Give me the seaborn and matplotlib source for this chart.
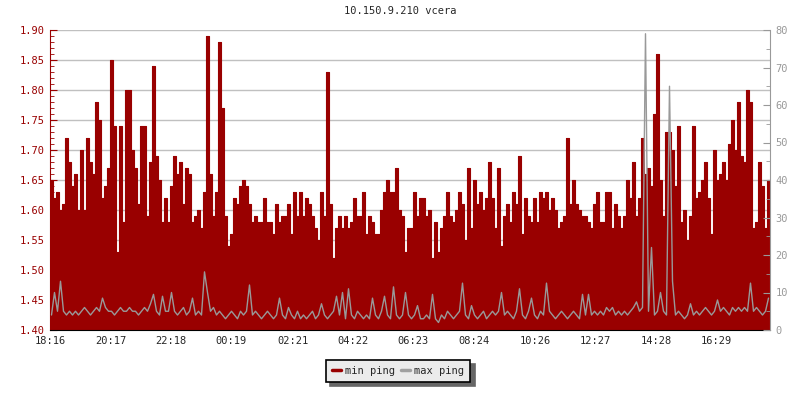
import numpy as np
import pandas as pd
import matplotlib
matplotlib.use("Agg")
import matplotlib.pyplot as plt
from matplotlib.lines import Line2D
from matplotlib.ticker import MultipleLocator
import seaborn as sns

# ── data (one sample every 6 minutes from 18:16) ──
min_ping = [
    1.65, 1.62, 1.63, 1.60, 1.61, 1.72, 1.68, 1.64, 1.66, 1.60,
    1.70, 1.60, 1.72, 1.68, 1.66, 1.78, 1.75, 1.62, 1.64, 1.67,
    1.85, 1.74, 1.53, 1.74, 1.58, 1.80, 1.80, 1.70, 1.67, 1.61,
    1.74, 1.74, 1.59, 1.68, 1.84, 1.69, 1.65, 1.58, 1.62, 1.58,
    1.64, 1.69, 1.66, 1.68, 1.61, 1.67, 1.66, 1.58, 1.59, 1.60,
    1.57, 1.63, 1.89, 1.66, 1.59, 1.63, 1.88, 1.77, 1.59, 1.54,
    1.56, 1.62, 1.61, 1.64, 1.65, 1.64, 1.61, 1.58, 1.59, 1.58,
    1.58, 1.62, 1.58, 1.58, 1.56, 1.61, 1.58, 1.59, 1.59, 1.61,
    1.56, 1.63, 1.59, 1.63, 1.59, 1.62, 1.61, 1.59, 1.57, 1.55,
    1.63, 1.59, 1.83, 1.61, 1.52, 1.57, 1.59, 1.57, 1.59, 1.57,
    1.58, 1.62, 1.59, 1.59, 1.63, 1.56, 1.59, 1.58, 1.56, 1.56,
    1.60, 1.63, 1.65, 1.63, 1.63, 1.67, 1.60, 1.59, 1.53, 1.57,
    1.57, 1.63, 1.59, 1.62, 1.62, 1.59, 1.60, 1.52, 1.58, 1.53,
    1.57, 1.59, 1.63, 1.59, 1.58, 1.60, 1.63, 1.61, 1.55, 1.67,
    1.57, 1.65, 1.61, 1.63, 1.60, 1.62, 1.68, 1.62, 1.57, 1.67,
    1.54, 1.59, 1.61, 1.58, 1.63, 1.61, 1.69, 1.56, 1.62, 1.59,
    1.58, 1.62, 1.58, 1.63, 1.62, 1.63, 1.60, 1.62, 1.60, 1.57,
    1.58, 1.59, 1.72, 1.61, 1.65, 1.61, 1.60, 1.59, 1.59, 1.58,
    1.57, 1.61, 1.63, 1.58, 1.58, 1.63, 1.63, 1.57, 1.61, 1.59,
    1.57, 1.59, 1.65, 1.62, 1.68, 1.59, 1.62, 1.72, 1.66, 1.67,
    1.64, 1.76, 1.86, 1.65, 1.59, 1.73, 1.73, 1.70, 1.64, 1.74,
    1.58, 1.60, 1.55, 1.59, 1.74, 1.62, 1.63, 1.65, 1.68, 1.62,
    1.56, 1.70, 1.65, 1.66, 1.68, 1.65, 1.71, 1.75, 1.70, 1.78,
    1.69, 1.68, 1.80, 1.78, 1.57, 1.58, 1.68, 1.64, 1.57, 1.65,
]

max_ping = [
    4, 10, 5, 13, 5, 4, 5, 4, 5, 4,
    5, 6, 5, 4, 5, 6, 5, 8.5, 6, 5,
    5, 4, 5, 6, 5, 5, 6, 5, 5, 4,
    5, 6, 5, 7, 9.5, 5, 4, 9, 5, 5,
    10, 5, 4, 5, 6, 4, 5, 8.5, 4, 5,
    4, 15.5, 10, 5, 6, 4, 5, 4, 3, 4,
    5, 4, 3, 5, 4, 5, 12, 4, 5, 4,
    3, 4, 5, 4, 3, 4, 8.5, 4, 3, 6,
    4, 3, 5, 3, 4, 3, 4, 5, 3, 4,
    7, 4, 3, 4, 5, 9, 4, 10, 3, 11,
    4, 3, 5, 4, 3, 4, 3, 8.5, 4, 3,
    5, 9, 4, 3, 11.5, 4, 3, 4, 10, 4,
    3, 4, 6.5, 3, 3, 4, 3, 9.5, 3, 2,
    4, 3, 5, 4, 3, 4, 5, 12.5, 4, 3,
    6.5, 4, 3, 4, 5, 3, 4, 5, 4, 5,
    10, 4, 5, 4, 3, 5, 11, 4, 3, 5,
    8.5, 4, 3, 5, 4, 12.5, 5, 4, 3, 4,
    5, 4, 3, 4, 5, 4, 3, 9.5, 4, 9.5,
    4, 5, 4, 5, 4, 6, 5, 6, 4, 5,
    4, 5, 4, 5, 6, 7.5, 5, 6, 79, 5,
    22, 4, 5, 10, 5, 4, 65, 13, 4, 5,
    4, 3, 4, 7, 4, 5, 4, 5, 6, 5,
    4, 5, 8, 5, 6, 5, 4, 6, 5, 6,
    5, 6, 5, 12.5, 5, 6, 5, 4, 5, 8.5,
]

tick_labels = ["18:16", "20:17", "22:18", "00:19", "02:21", "04:22",
               "06:23", "08:24", "10:26", "12:27", "14:28", "16:29"]
tick_minutes = [0, 121, 242, 363, 485, 606, 727, 848, 970, 1091, 1212, 1333]

STEP = 6          # minutes between samples
SPAN = 1440       # 24 h on the x axis

RED = "#990000"
GREY = "#999999"

df = pd.DataFrame({"minute": np.arange(len(min_ping)) * STEP,
                   "min_ping": min_ping,
                   "max_ping": max_ping})
# extra row so the step drawing reaches the right edge
df_edge = pd.concat([df, df.iloc[[-1]].assign(minute=SPAN)], ignore_index=True)
# max ping drawn as a plain line through the middle of each sample
df_mid = df.assign(minute=df["minute"] + STEP / 2)

sns.set_style("white")
plt.rcParams["font.family"] = ["DejaVu Sans Mono"]
plt.rcParams["font.size"] = 7.5

fig = plt.figure(figsize=(8, 4), dpi=100)
ax = fig.add_axes([0.0625, 0.175, 0.9, 0.75])

# ---- min ping: filled area on the left axis ----
ax.fill_between(df_edge["minute"], 1.40, df_edge["min_ping"],
                step="post", color=RED, linewidth=0, zorder=2)
sns.lineplot(data=df_edge, x="minute", y="min_ping", ax=ax, color=RED,
             linewidth=0.8, drawstyle="steps-post", zorder=3)

ax.set_xlim(0, SPAN)
ax.set_ylim(1.40, 1.90)
ax.yaxis.set_major_locator(MultipleLocator(0.05))
ax.yaxis.set_minor_locator(MultipleLocator(0.01))
ax.yaxis.set_major_formatter(matplotlib.ticker.FormatStrFormatter("%.2f"))
ax.grid(axis="y", color="#c0c0c0", linewidth=1, zorder=0)
ax.set_axisbelow(True)
ax.set_xticks(tick_minutes)
ax.set_xticklabels(tick_labels)
ax.set_xlabel("")
ax.set_ylabel("")

ax.tick_params(axis="y", which="both", direction="in", colors=RED,
               labelcolor=RED, pad=4)
ax.tick_params(axis="y", which="major", length=5)
ax.tick_params(axis="y", which="minor", length=3)
ax.tick_params(axis="x", direction="in", length=5, color="black", pad=4)

ax.spines["top"].set_visible(False)
ax.spines["right"].set_visible(False)
ax.spines["left"].set_color(RED)
ax.spines["bottom"].set_color("black")

# ---- max ping: grey line on the right axis ----
ax2 = ax.twinx()
sns.lineplot(data=df_mid, x="minute", y="max_ping", ax=ax2, color=GREY,
             linewidth=1, zorder=4)
ax2.set_xlim(0, SPAN)
ax2.set_ylim(0, 80)
ax2.yaxis.set_major_locator(MultipleLocator(10))
ax2.yaxis.set_minor_locator(MultipleLocator(5))
ax2.tick_params(axis="y", which="both", direction="in", colors=GREY,
                labelcolor=GREY, pad=4)
ax2.tick_params(axis="y", which="major", length=5)
ax2.tick_params(axis="y", which="minor", length=3)
ax2.set_ylabel("")
for side in ["top", "left", "bottom"]:
    ax2.spines[side].set_visible(False)
ax2.spines["right"].set_color(GREY)

fig.suptitle("10.150.9.210 vcera", y=0.985, fontsize=7.5)

handles = [Line2D([0], [0], color=RED, linewidth=2.5),
           Line2D([0], [0], color="#a0a0a0", linewidth=2.5)]
leg = fig.legend(handles, ["min ping", "max ping"], loc="center",
                 bbox_to_anchor=(0.4975, 0.0725), ncol=2, frameon=True,
                 fancybox=False, edgecolor="black", facecolor="#ebebeb",
                 framealpha=1, handlelength=0.9, handletextpad=0.4,
                 columnspacing=0.5, borderpad=0.6, fontsize=7.5,
                 shadow={"color": "#666666", "alpha": 1, "ox": 3, "oy": -3})
leg.get_frame().set_linewidth(1.2)

fig.savefig("out.png", dpi=100)
